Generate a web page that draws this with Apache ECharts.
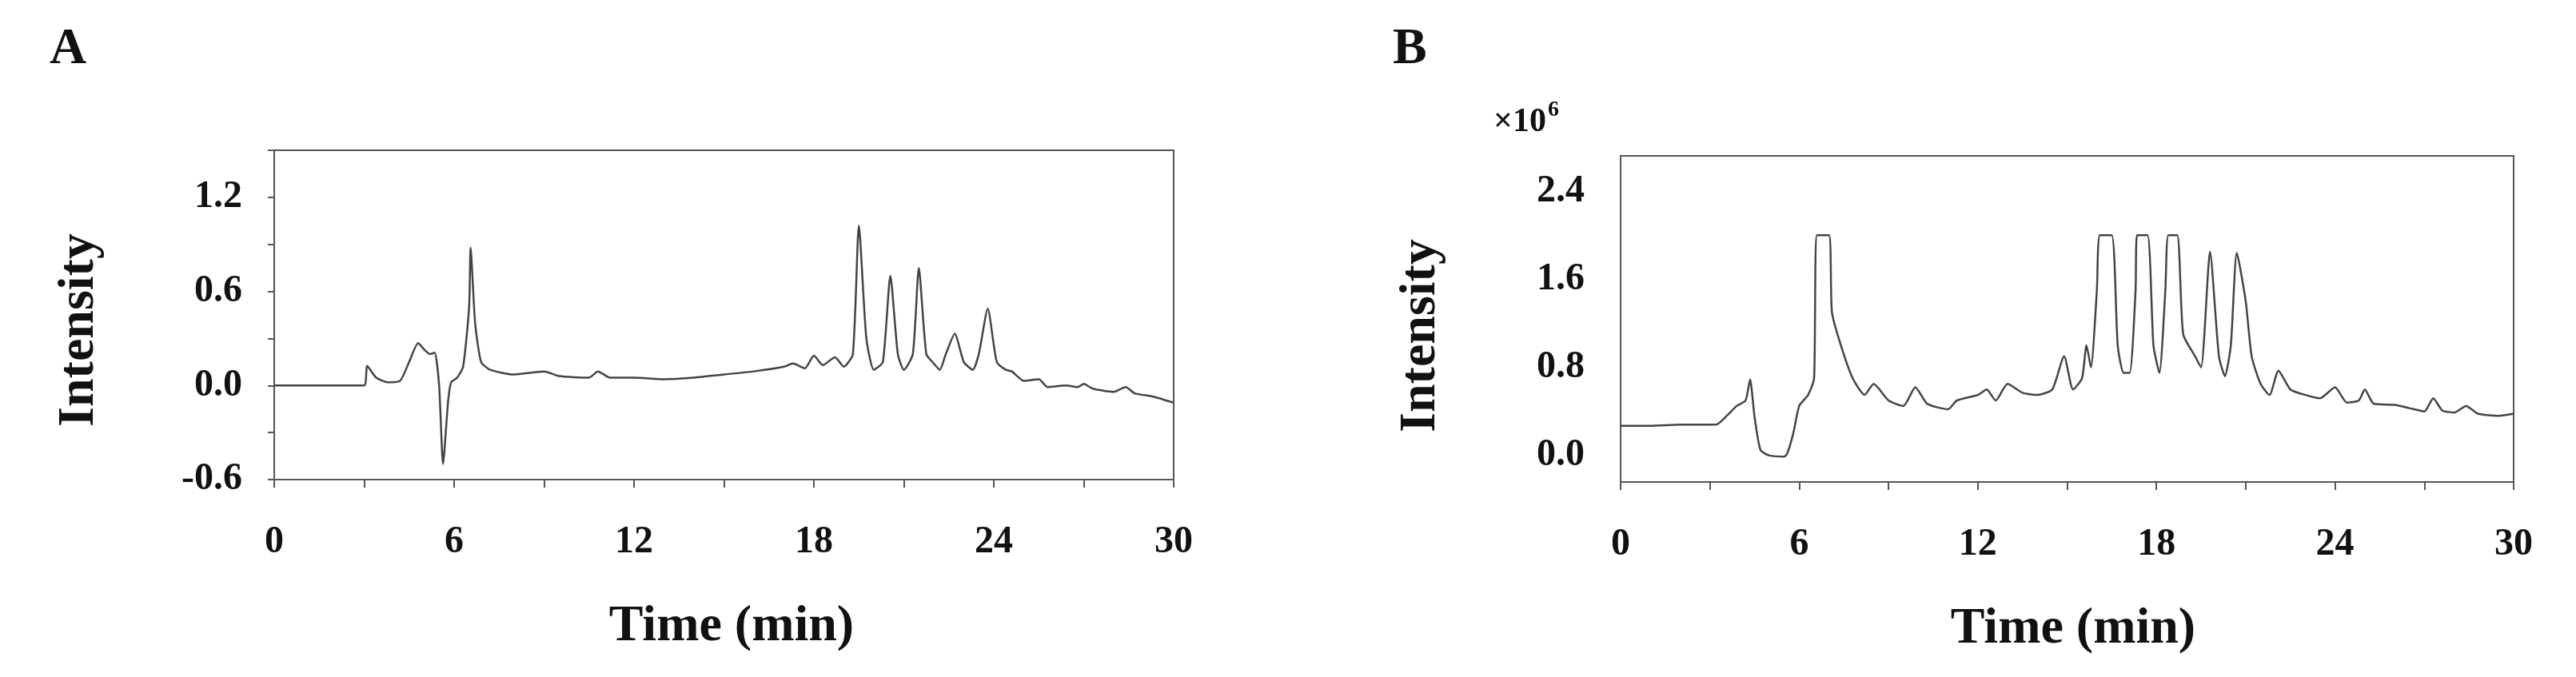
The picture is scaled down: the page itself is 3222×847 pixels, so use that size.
<!DOCTYPE html>
<html><head><meta charset="utf-8">
<script src="https://cdn.jsdelivr.net/npm/echarts@6/dist/echarts.min.js"></script>
<style>html,body{margin:0;padding:0;background:#fff}#c{width:3222px;height:847px}</style>
</head><body><div id="c"></div>
<script>
// Panel A: time (min) and intensity
const timeA = [0,1,2,3.0,3.1,3.4,3.8,4.2,4.5,4.8,5.0,5.2,5.35,5.5,5.63,5.8,5.9,6.1,6.3,6.5,6.55,6.7,6.9,7.2,8,9,9.5,10.5,10.8,11.2,12,13,14,15,16,17,17.3,17.7,18,18.3,18.7,19,19.3,19.5,19.75,20,20.3,20.55,20.8,21,21.3,21.5,21.75,22,22.2,22.4,22.7,23,23.3,23.5,23.8,24.1,24.4,24.6,25,25.5,25.8,26.4,26.8,27,27.3,28,28.4,28.7,29.3,30];
const intensityA = [0,0,0,0.0,0.125,0.05,0.02,0.03,0.15,0.27,0.23,0.2,0.21,0.0,-0.5,-0.1,0.02,0.05,0.12,0.5,0.88,0.4,0.15,0.1,0.07,0.09,0.06,0.05,0.09,0.05,0.05,0.04,0.05,0.07,0.09,0.12,0.14,0.11,0.19,0.13,0.18,0.12,0.2,1.02,0.3,0.1,0.15,0.7,0.2,0.1,0.2,0.75,0.2,0.14,0.1,0.2,0.33,0.15,0.1,0.2,0.49,0.15,0.1,0.09,0.03,0.04,-0.01,0.0,-0.01,0.01,-0.02,-0.04,-0.01,-0.05,-0.07,-0.11];
// Panel B: time (min) and intensity (x10^6)
const timeB = [0,1,2,3.2,3.6,3.9,4.2,4.35,4.5,4.7,5,5.5,5.6,5.8,6,6.3,6.5,6.6,7.0,7.1,7.4,7.8,8.2,8.5,9,9.5,9.9,10.3,11,11.3,12,12.3,12.6,13,13.5,14,14.5,14.9,15.2,15.5,15.65,15.8,16.0,16.1,16.5,16.7,16.9,17.1,17.3,17.35,17.7,17.9,18.1,18.3,18.4,18.7,18.9,19.3,19.5,19.8,20.1,20.3,20.5,20.7,21,21.2,21.5,21.8,22.1,22.5,23,23.5,24,24.4,24.8,25,25.3,26,26.5,27,27.3,27.6,28,28.4,28.8,29.5,30];
const intensityB = [0.27,0.27,0.28,0.28,0.37,0.45,0.5,0.69,0.35,0.05,0.0,-0.01,0.02,0.2,0.45,0.55,0.7,2.0,2.0,1.3,1.0,0.7,0.55,0.65,0.5,0.45,0.62,0.47,0.42,0.5,0.55,0.6,0.5,0.65,0.57,0.55,0.6,0.9,0.6,0.7,1.0,0.8,1.5,2.0,2.0,1.0,0.75,0.75,1.5,2.0,2.0,1.0,0.75,1.5,2.0,2.0,1.1,0.9,0.8,1.85,0.9,0.72,1.0,1.84,1.4,0.9,0.65,0.55,0.77,0.6,0.55,0.52,0.62,0.48,0.5,0.6,0.47,0.46,0.43,0.4,0.52,0.41,0.39,0.45,0.38,0.36,0.38];
const xTicks = [0,6,12,18,24,30];
const yTicksA = [-0.6,0,0.6,1.2];
const yTicksB = [0,0.8,1.6,2.4];

const FONT = '"Liberation Serif", "DejaVu Serif", serif';
const AX = '#555';
function isTick(v, list){ return list.some(t => Math.abs(t - v) < 1e-6); }
function xAxis(grid){
  return {gridIndex:grid,type:'value',min:0,max:30,interval:3,
    axisLine:{onZero:false,lineStyle:{color:AX,width:2}},
    axisTick:{show:true,length:10,inside:false,lineStyle:{color:AX,width:2}},
    axisLabel:{margin:55,fontFamily:FONT,fontWeight:'bold',fontSize:48,color:'#111',
      formatter:v=>isTick(v,xTicks)?String(v):''},
    splitLine:{show:false}};
}
const pairsA = timeA.map((t,i)=>[t,intensityA[i]]);
const pairsB = timeB.map((t,i)=>[t,intensityB[i]]);
const chart = echarts.init(document.getElementById('c'));
chart.setOption({
  animation:false,
  grid:[
    {left:343,width:1125,top:188,height:412,show:true,borderColor:AX,borderWidth:2},
    {left:2027,width:1117,top:195,height:408,show:true,borderColor:AX,borderWidth:2}
  ],
  xAxis:[xAxis(0),xAxis(1)],
  yAxis:[
    {gridIndex:0,type:'value',min:-0.6,max:1.5,interval:0.3,
      axisLine:{show:true,onZero:false,lineStyle:{color:AX,width:2}},
      axisTick:{show:true,length:8,lineStyle:{color:AX,width:2}},
      axisLabel:{margin:40,fontFamily:FONT,fontWeight:'bold',fontSize:48,color:'#111',
        formatter:v=>isTick(v,yTicksA)?v.toFixed(1):''},
      splitLine:{show:false}},
    {gridIndex:1,type:'value',min:-0.24,max:2.72,interval:0.08,
      axisLine:{show:true,onZero:false,lineStyle:{color:AX,width:2}},
      axisTick:{show:false},
      axisLabel:{margin:45,fontFamily:FONT,fontWeight:'bold',fontSize:48,color:'#111',
        formatter:v=>isTick(v,yTicksB)?v.toFixed(1):''},
      splitLine:{show:false}}
  ],
  series:[
    {type:'line',xAxisIndex:0,yAxisIndex:0,data:pairsA,showSymbol:false,smooth:0.2,
      lineStyle:{color:'#444',width:2.5}},
    {type:'line',xAxisIndex:1,yAxisIndex:1,data:pairsB,showSymbol:false,smooth:0.2,
      lineStyle:{color:'#444',width:2.5}}
  ],
  graphic:[
    {type:'text',left:62,top:30,style:{text:'A',font:'bold 64px '+FONT,fill:'#111'}},
    {type:'text',left:1742,top:30,style:{text:'B',font:'bold 64px '+FONT,fill:'#111'}},
    {type:'text',x:915,y:784,style:{text:'Time (min)',font:'bold 64px '+FONT,fill:'#111',align:'center',verticalAlign:'middle'}},
    {type:'text',x:2593,y:787,style:{text:'Time (min)',font:'bold 64px '+FONT,fill:'#111',align:'center',verticalAlign:'middle'}},
    {type:'text',x:99,y:413,rotation:Math.PI/2,style:{text:'Intensity',font:'bold 64px '+FONT,fill:'#111',align:'center',verticalAlign:'middle'}},
    {type:'text',x:1777,y:420,rotation:Math.PI/2,style:{text:'Intensity',font:'bold 64px '+FONT,fill:'#111',align:'center',verticalAlign:'middle'}},
    {type:'text',left:1868,top:132,style:{text:'×10',font:'bold 42px '+FONT,fill:'#111'}},
    {type:'text',left:1936,top:124,style:{text:'6',font:'bold 28px '+FONT,fill:'#111'}}
  ]
});
</script></body></html>
